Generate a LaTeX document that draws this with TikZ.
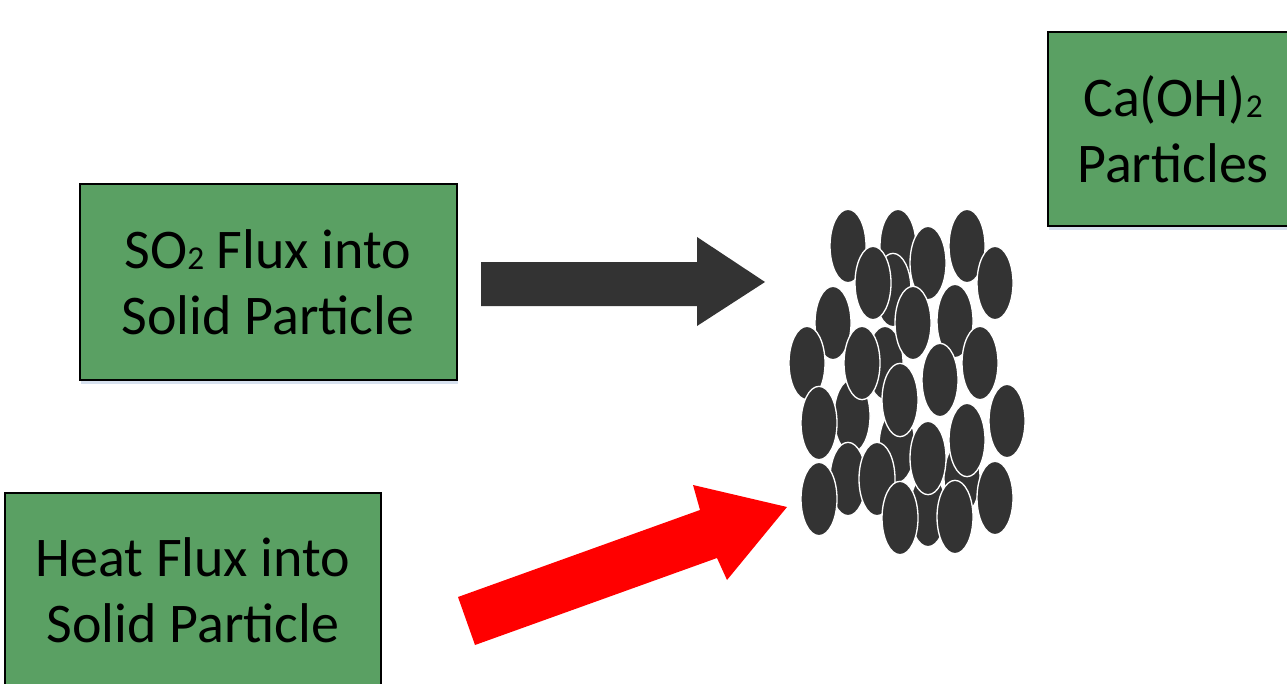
\documentclass[tikz,border=0pt]{standalone}
\usepackage{fontspec}
\setmainfont{Carlito}
\usetikzlibrary{shadows}
\definecolor{boxgreen}{RGB}{90,160,99}
\definecolor{grain}{RGB}{51,51,51}
\definecolor{shade}{RGB}{205,218,235}
\newcommand{\chemsub}[1]{\raisebox{-1pt}{\fontsize{25}{25}\selectfont #1}}

\begin{document}
\begin{tikzpicture}[x=0.75pt, y=-0.75pt,
    box/.style={rectangle, draw=black, line width=1.5pt, fill=boxgreen, inner sep=0pt,
        align=center, font=\fontsize{42}{49.5}\selectfont,
        drop shadow={shadow xshift=1pt, shadow yshift=-3pt, fill=shade, opacity=0.8}},
    grainshape/.style={fill=grain, draw=white, line width=1pt}]
        \useasboundingbox (0,0) rectangle (1287,684);
        \node [box, minimum width=282.75pt, minimum height=146.25pt] (so2) at (268,282) {SO\chemsub{2} Flux into\\Solid Particle};
        \node [box, minimum width=282pt, minimum height=146.25pt] (heat) at (193,590) {Heat Flux into\\Solid Particle};
        \node [box, minimum width=187.5pt, minimum height=145.5pt] (caoh) at (1173,129) {Ca(OH)\chemsub{2}\\Particles};
        % block arrows
        \fill [grain] (481,262) -- (697,262) -- (697,237) -- (765,282) -- (697,326) -- (697,306) -- (481,306) -- cycle;
        \fill [red] (458,597) -- (700,510) -- (693,485) -- (787,507) -- (727,580) -- (717,558) -- (475,645) -- cycle;
        % particle cluster
        \foreach \cx/\cy in {898/246, 893/290, 885/363, 852/416, 928/510, 897/446, 962/478,
                848/246, 967/246, 928/263, 873/283, 995/283, 833/323, 913/323, 955/321,
                807/363, 862/363, 980/363, 940/380, 900/400, 819/423, 1007/421, 967/440,
                928/458, 848/479, 877/479, 819/499, 995/498, 900/518, 955/517}
            \draw [grainshape] (\cx,\cy) ellipse [x radius=13.5pt, y radius=27.5pt];
\end{tikzpicture}
\end{document}
